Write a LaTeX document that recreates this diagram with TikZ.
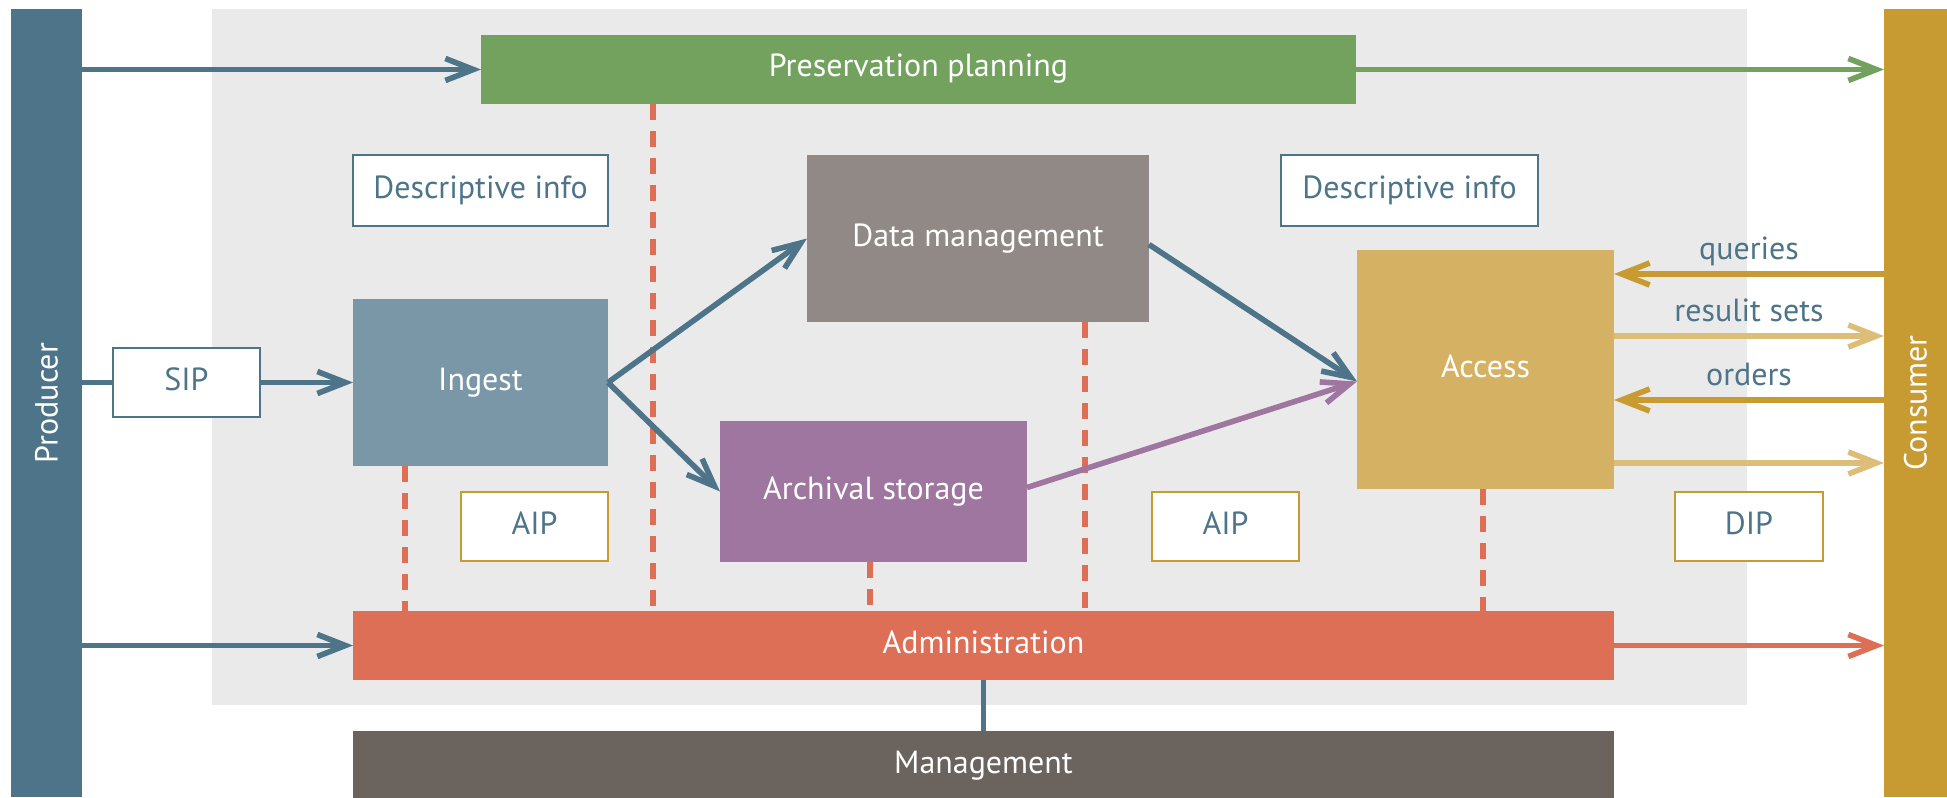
\documentclass[tikz,border=0pt]{standalone}
\usepackage{fontspec}
\setmainfont{PT Sans}
\usetikzlibrary{arrows.meta,calc}
\definecolor{prodblue}{RGB}{77,116,137}
\definecolor{consgold}{RGB}{200,154,50}
\definecolor{lightgold}{RGB}{221,190,120}
\definecolor{ppgreen}{RGB}{114,162,94}
\definecolor{dmgray}{RGB}{145,137,133}
\definecolor{ingestblue}{RGB}{122,151,168}
\definecolor{aspurple}{RGB}{158,118,160}
\definecolor{accessgold}{RGB}{213,178,99}
\definecolor{adminred}{RGB}{222,111,87}
\definecolor{mgmtgray}{RGB}{107,99,94}
\definecolor{bggray}{RGB}{234,234,234}
\tikzset{
  every node/.style={inner sep=0pt, outer sep=0pt, font=\fontsize{16}{19}\selectfont},
  bar/.style={fill=#1, minimum width=33pt, minimum height=394pt},
  block/.style={fill=#1, text=white, text height=11.5pt, text depth=4pt},
  infobox/.style={fill=white, draw=#1, line width=1pt, text=prodblue,
                  text height=11.5pt, text depth=4pt,
                  minimum width=73.5pt, minimum height=34.5pt},
  flow/.style={draw=#1, line width=2.8pt, -{Straight Barb[length=14pt,width=11pt]}},
  plain/.style={draw=#1, line width=2.8pt},
  ctrl/.style={draw=adminred, line width=2.8pt, dash pattern=on 8pt off 5.5pt},
  flowlabel/.style={midway, anchor=base, yshift=7.5pt, text=prodblue}
}
\begin{document}
\begin{tikzpicture}[x=0.5pt,y=-0.5pt]
\useasboundingbox (0,0) rectangle (1947,797);
% shared background of the archive
\fill[bggray] (212,9) rectangle (1747,705);

% external actors
\node[bar=prodblue, minimum width=35.5pt,
      label={[rotate=90,text=white]center:Producer}] (producer) at (46.5,403) {};
\node[bar=consgold, minimum width=31.5pt,
      label={[rotate=90,text=white]center:Consumer}] (consumer) at (1915.5,403) {};

% functional entities
\node[block=ppgreen, minimum width=437.5pt, minimum height=34.5pt] (pp) at (918.5,69.5) {Preservation planning};
\node[block=dmgray, minimum width=171pt, minimum height=83.5pt] (dm) at (978,238.5) {Data management};
\node[block=ingestblue, minimum width=127.5pt, minimum height=83.5pt] (ingest) at (480.5,382.5) {Ingest};
\node[block=aspurple, minimum width=153.5pt, minimum height=70.5pt] (as) at (873.5,491.5) {Archival storage};
\node[block=accessgold, minimum width=128.5pt, minimum height=119.5pt] (access) at (1485.5,369.5) {Access};
\node[block=adminred, minimum width=630.5pt, minimum height=34.5pt] (admin) at (983.5,645.5) {Administration};
\node[block=mgmtgray, minimum width=630.5pt, minimum height=34.5pt] (mgmt) at (983.5,765.5) {Management};

% information packages
\node[infobox=prodblue, minimum width=127.5pt, minimum height=35.5pt] (desc1) at (480.5,190.5) {Descriptive info};
\node[infobox=prodblue, minimum width=128.5pt, minimum height=35.5pt] (desc2) at (1409.5,190.5) {Descriptive info};
\node[infobox=prodblue] (sip) at (186.5,382.5) {SIP};
\node[infobox=consgold] (aip1) at (534.5,526.5) {AIP};
\node[infobox=consgold] (aip2) at (1225.5,526.5) {AIP};
\node[infobox=consgold, minimum width=74pt] (dip) at (1749,526.5) {DIP};

% administration control links
\coordinate (d1) at (405,0);
\coordinate (d2) at (653,0);
\coordinate (d3) at (870,0);
\coordinate (d4) at (1085,0);
\coordinate (d5) at (1483,0);
\draw[ctrl] (ingest.south -| d1) -- (admin.north -| d1);
\draw[ctrl] (pp.south -| d2) -- (admin.north -| d2);
\draw[ctrl] (as.south -| d3) -- (admin.north -| d3);
\draw[ctrl] (dm.south -| d4) -- (admin.north -| d4);
\draw[ctrl] (access.south -| d5) -- (admin.north -| d5);
\draw[plain=prodblue, line width=2.5pt] (admin.south) -- (mgmt.north);

% producer side
\draw[flow=prodblue] (producer.east |- pp.west) -- (pp.west);
\draw[plain=prodblue] (producer.east |- sip.west) -- (sip.west);
\draw[flow=prodblue] (sip.east) -- (ingest.west);
\draw[flow=prodblue] (producer.east |- admin.west) -- (admin.west);

% consumer side
\draw[flow=ppgreen] (pp.east) -- (consumer.west |- pp.east);
\draw[flow=adminred] (admin.east) -- (consumer.west |- admin.east);

% internal flows
\coordinate (accin) at ($(access.west)+(0,12)$);
\draw[flow=prodblue] (ingest.east) -- (dm.west);
\draw[flow=prodblue] (ingest.east) -- (as.west);
\draw[flow=prodblue] ($(dm.east)+(0,6)$) -- (accin);
\draw[flow=aspurple] ($(as.east)+(0,-4)$) -- (accin);

% access dialogue
\coordinate (yq) at (0,274);
\coordinate (yr) at (0,336);
\coordinate (yo) at (0,400);
\coordinate (yd) at (0,463);
\draw[flow=consgold] (consumer.west |- yq) -- (access.east |- yq) node[flowlabel] {queries};
\draw[flow=lightgold] (access.east |- yr) -- (consumer.west |- yr) node[flowlabel] {resulit sets};
\draw[flow=consgold] (consumer.west |- yo) -- (access.east |- yo) node[flowlabel] {orders};
\draw[flow=lightgold] (access.east |- yd) -- (consumer.west |- yd);
\end{tikzpicture}
\end{document}
